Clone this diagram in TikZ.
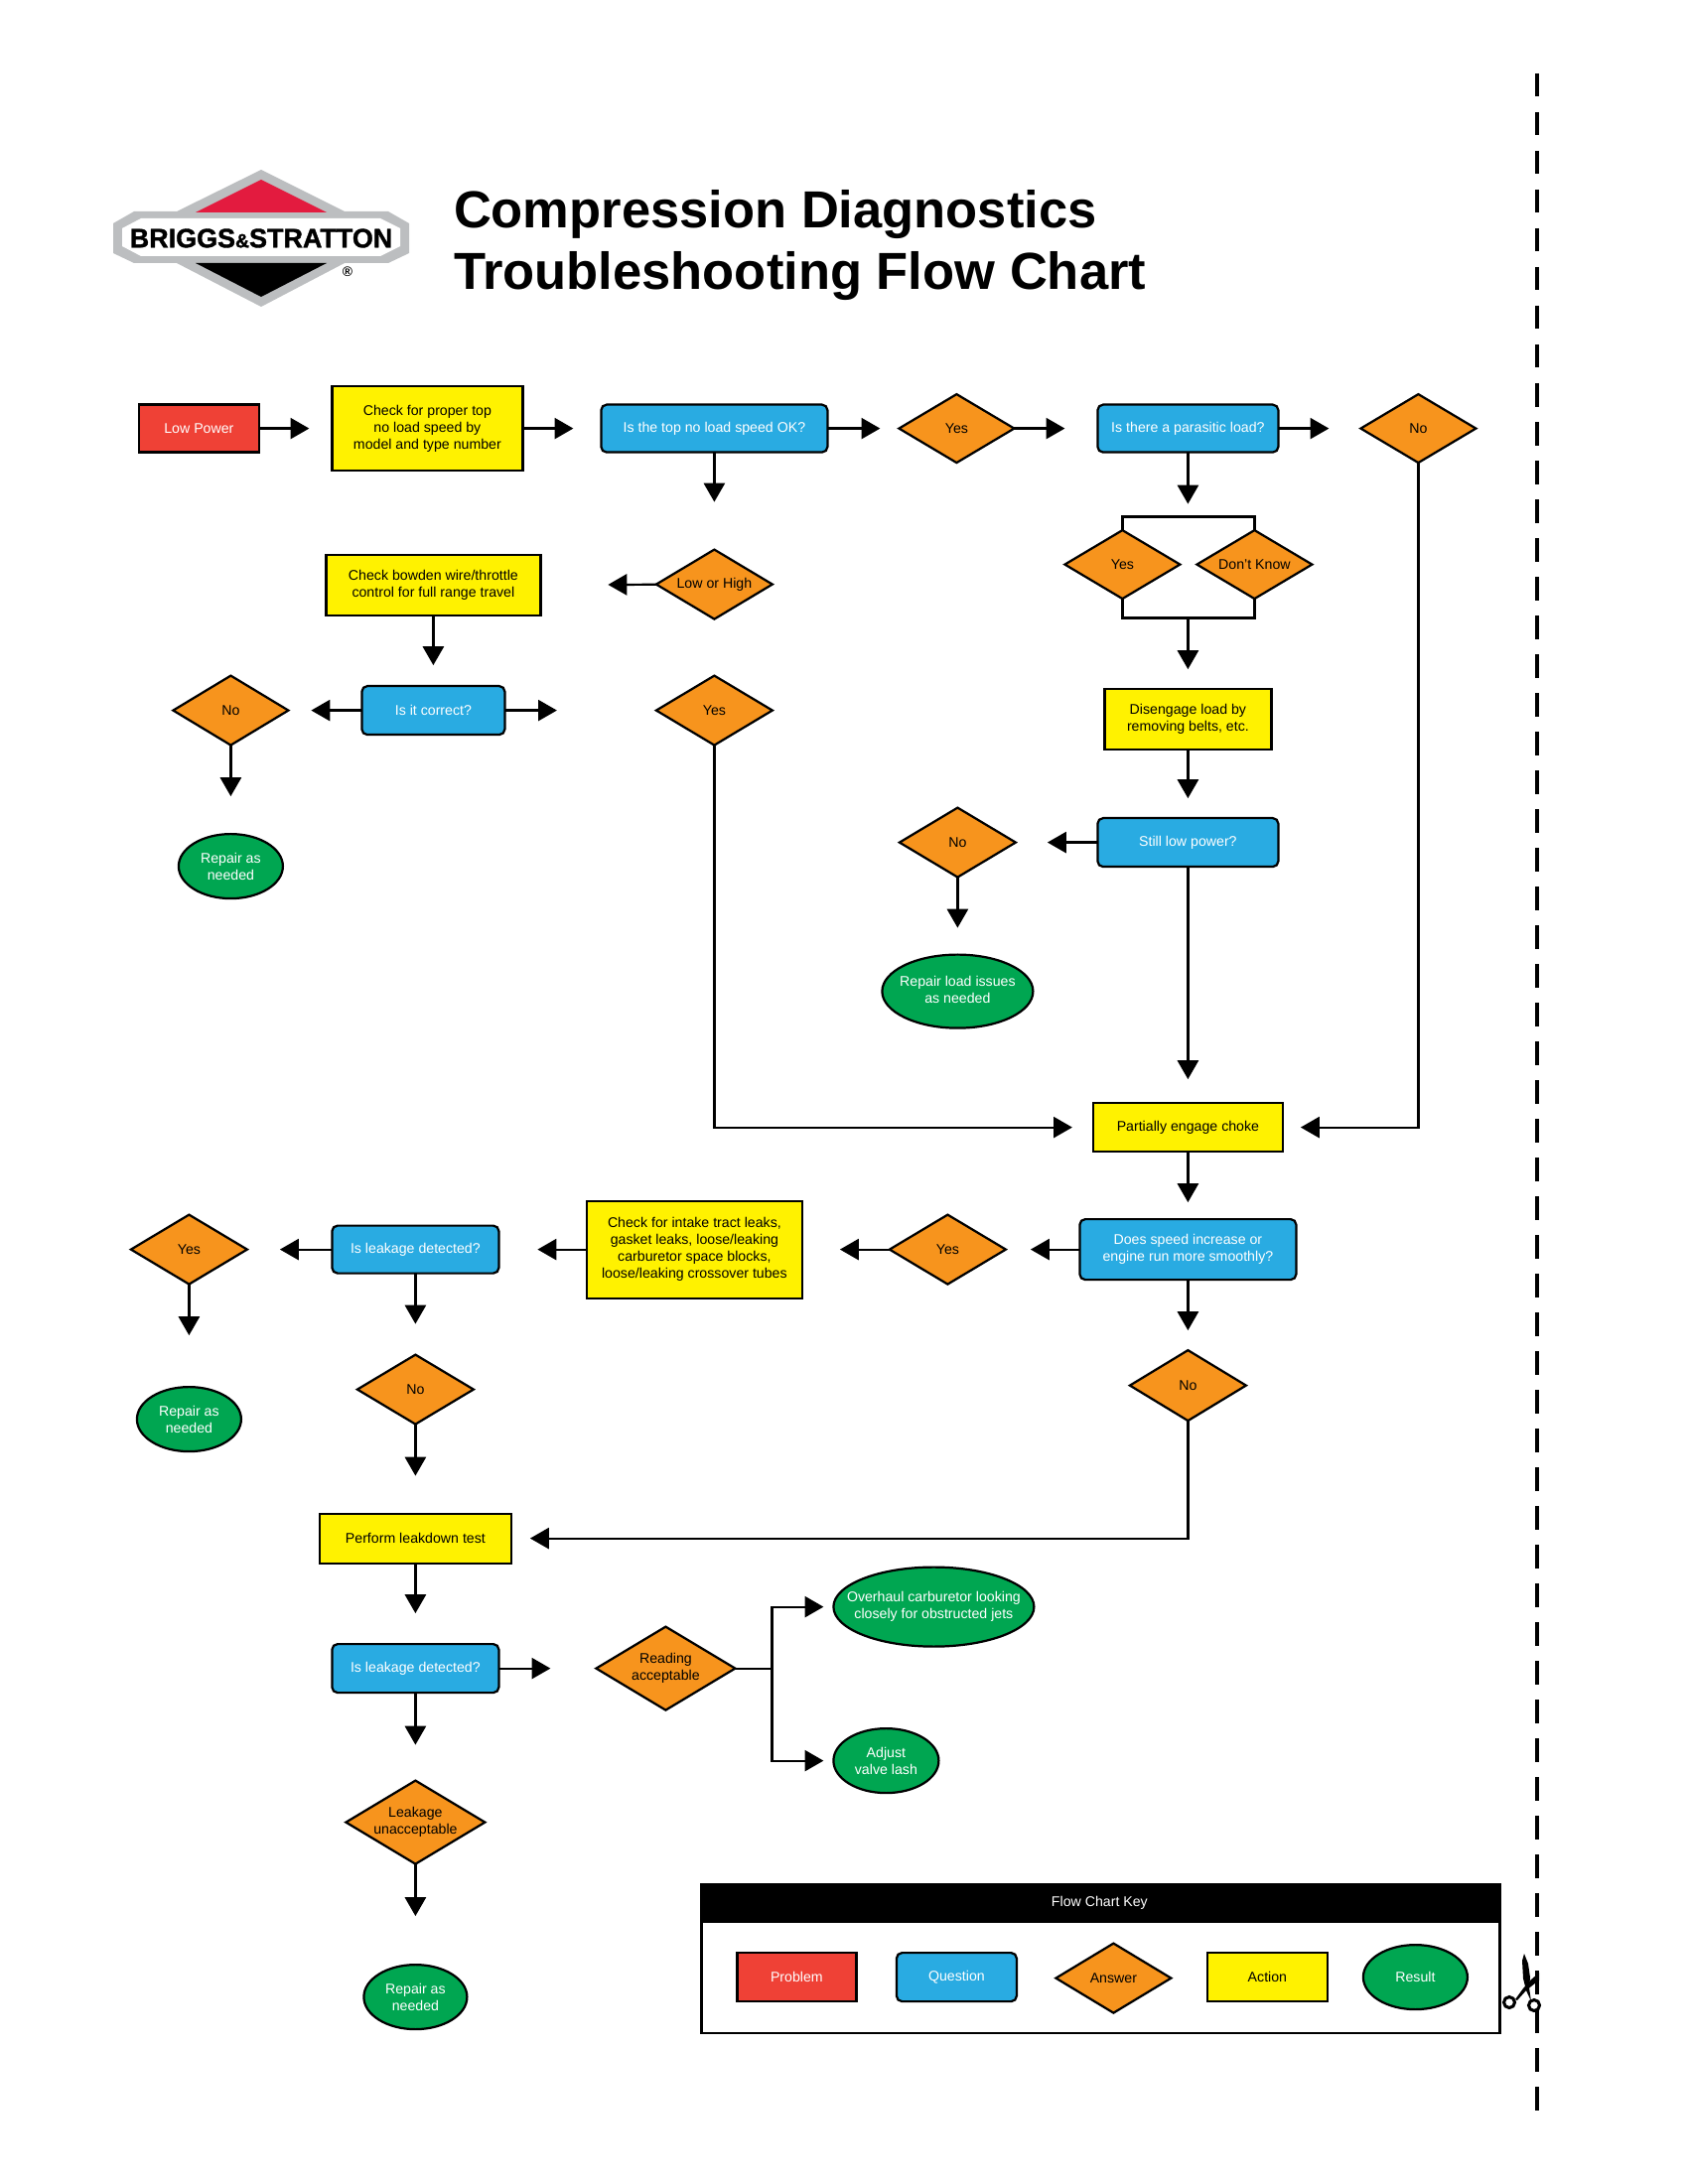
\documentclass[tikz,border=0pt]{standalone}
\usepackage{fontspec}
\setmainfont{Liberation Sans}
\newfontfamily\logofont[FakeBold=1.4]{Liberation Sans Bold}
\newcommand*{\slim}[1]{\makebox[0pt]{\raisebox{-1pt}{\begin{tabular}{@{}c@{}}#1\end{tabular}}}}
\definecolor{P}{HTML}{EF4136}
\definecolor{Q}{HTML}{29ABE2}
\definecolor{A}{HTML}{F7941D}
\definecolor{D}{HTML}{FFF200}
\definecolor{R}{HTML}{00A651}
\definecolor{G}{HTML}{BCBEC0}
\definecolor{L}{HTML}{E31B3F}
\usetikzlibrary{arrows.meta}
\usetikzlibrary{shapes.geometric}
\tikzstyle{base}=[x=0.36pt, y=-0.36pt, inner sep=0pt, outer sep=0pt, line width=0.8pt, font=\fontsize{5.1}{6.1}\selectfont, align=center]
\tikzstyle{problem}=[draw=black, fill=P, text=white, rectangle]
\tikzstyle{question}=[draw=black, fill=Q, text=white, rectangle, rounded corners=2pt]
\tikzstyle{answer}=[draw=black, fill=A, text=black, diamond, aspect=1.7]
\tikzstyle{action}=[draw=black, fill=D, text=black, rectangle]
\tikzstyle{result}=[draw=black, fill=R, text=white, ellipse]
\tikzset{
    size/.style 2 args={minimum width=#1*0.36pt, minimum height=#2*0.36pt},
    flow/.style={draw=black, -{Triangle[length=6.8pt, width=7.6pt]}},
    gap/.style={shorten >=#1*0.36pt}
}

\begin{document}
\begin{tikzpicture}[base]
    \path [use as bounding box] (0,0) rectangle (1700,2200);
    % logo
    \fill [G] (263,171) -- (347,213) -- (391,213) -- (412,225) -- (412,255) -- (391,265) -- (347,265) -- (263,309) -- (178,265) -- (135,265) -- (114,255) -- (114,225) -- (135,213) -- (178,213) -- cycle;
    \fill [L] (263,181) -- (329,214) -- (197,214) -- cycle;
    \fill [black] (197,265) -- (329,265) -- (263,299) -- cycle;
    \fill [white] (142,220) -- (383,220) -- (403,230) -- (403,248) -- (383,258) -- (142,258) -- (123,248) -- (123,230) -- cycle;
    \node [font=\fontsize{9.7}{10}\logofont] (brand) at (263,240) {BRIGGS{\fontsize{7}{8}\selectfont\&}STRATTON};
    \node [font=\fontsize{5}{6}\bfseries] (regmark) at (350,274) {®};
    % title
    \node [anchor=west, align=left, font=\fontsize{18.9}{22.6}\bfseries] (title) at (457,247) {Compression Diagnostics\\Troubleshooting Flow Chart};
    \begin{scope}[shift={(0.4,0.6)}]
    % top row
    \node [problem, size={121}{48}] (low) at (200,431) {Low Power};
    \node [action, size={192}{85}] (checktop) at (430,431) {Check for proper top\\no load speed by\\model and type number};
    \node [question, size={228}{48}] (topok) at (719,431) {Is the top no load speed OK?};
    \node [answer, size={116}{69}] (yesa) at (963,431) {Yes};
    \node [question, size={182}{48}] (parasitic) at (1196,431) {Is there a parasitic load?};
    \node [answer, size={116}{69}] (noa) at (1428,431) {No};
    % left branch
    \node [answer, size={117}{70}] (lowhigh) at (719,588) {Low or High};
    \node [action, size={216}{61}] (bowden) at (436,589) {Check bowden wire/throttle\\control for full range travel};
    \node [question, size={144}{49}] (correct) at (436,715) {Is it correct?};
    \node [answer, size={116}{70}] (nob) at (232,715) {No};
    \node [answer, size={117}{70}] (yesb) at (719,715) {Yes};
    \node [result, size={105}{65}] (repaira) at (232,872) {Repair as\\needed};
    % parasitic branch
    \coordinate (brtop) at (1196,520);
    \coordinate (brbot) at (1196,622);
    \node [answer, size={116}{69}] (yesc) at (1130,568) {Yes};
    \node [answer, size={116}{69}] (dontknow) at (1263,568) {Don't Know};
    \node [action, size={168}{61}] (disengage) at (1196,724) {Disengage load by\\removing belts, etc.};
    \node [question, size={182}{49}] (still) at (1196,848) {Still low power?};
    \node [answer, size={117}{70}] (noc) at (964,848) {No};
    \node [result, size={152}{74}] (repairload) at (964,998) {\slim{Repair load issues\\as needed}};
    % choke
    \node [action, size={191}{49}] (choke) at (1196,1135) {Partially engage choke};
    \node [question, size={218}{61}] (speed) at (1196,1258) {Does speed increase or\\engine run more smoothly?};
    \node [answer, size={117}{70}] (yesd) at (954,1258) {Yes};
    \node [action, size={217}{98}] (intake) at (699,1258) {Check for intake tract leaks,\\gasket leaks, loose/leaking\\carburetor space blocks,\\loose/leaking crossover tubes};
    \node [question, size={168}{48}] (leaka) at (418,1258) {Is leakage detected?};
    \node [answer, size={117}{70}] (yese) at (190,1258) {Yes};
    \node [result, size={105}{65}] (repairb) at (190,1429) {Repair as\\needed};
    \node [answer, size={117}{70}] (nod) at (418,1399) {No};
    \node [answer, size={117}{71}] (noe) at (1196,1395) {No};
    % leakdown
    \node [action, size={193}{50}] (leakdown) at (418,1549) {Perform leakdown test};
    \node [question, size={168}{49}] (leakb) at (418,1680) {Is leakage detected?};
    \node [answer, size={140}{84}] (reading) at (670,1680) {Reading\\acceptable};
    \node [answer, size={140}{84}] (leakage) at (418,1835) {Leakage\\unacceptable};
    \node [result, size={104}{65}] (repairc) at (418,2011) {Repair as\\needed};
    \node [result, size={202}{80}] (overhaul) at (940,1618) {\slim{Overhaul carburetor looking\\closely for obstructed jets}};
    \node [result, size={106}{65}] (lash) at (892,1773) {Adjust\\valve lash};
    \coordinate (fork) at (777,1680);
    % connectors
    \draw [flow, gap=23] (low) -- (checktop);
    \draw [flow, gap=28] (checktop) -- (topok);
    \draw [flow, gap=19] (topok) -- (yesa);
    \draw [flow, gap=33] (yesa) -- (parasitic);
    \draw [flow, gap=32] (parasitic) -- (noa);
    \draw [flow, gap=48] (topok.south) -- (lowhigh.north);
    \draw [flow, gap=68] (lowhigh) -- (bowden);
    \draw [flow, gap=21] (bowden.south) -- (correct.north);
    \draw [flow, gap=23] (correct) -- (nob);
    \draw [flow, gap=100] (correct) -- (yesb);
    \draw [flow, gap=38] (nob) -- (repaira);
    \draw [flow, gap=21] (yesb.south) |- (choke.west);
    \draw [flow, gap=18] (noa.south) |- (choke.east);
    \draw [flow, gap=13] (parasitic.south) -- (brtop);
    \draw (yesc.north) |- (brtop) -| (dontknow.north);
    \draw (yesc.south) |- (brbot) -| (dontknow.south);
    \draw [flow, gap=20] (brbot) -- (disengage.north);
    \draw [flow, gap=20] (disengage) -- (still);
    \draw [flow, gap=32] (still) -- (noc);
    \draw [flow, gap=27] (noc) -- (repairload);
    \draw [flow, gap=24] (still) -- (choke);
    \draw [flow, gap=17] (choke) -- (speed);
    \draw [flow, gap=25] (speed) -- (yesd);
    \draw [flow, gap=38] (yesd) -- (intake);
    \draw [flow, gap=39] (intake) -- (leaka);
    \draw [flow, gap=33] (leaka) -- (yese);
    \draw [flow, gap=52] (yese) -- (repairb);
    \draw [flow, gap=31] (leaka) -- (nod);
    \draw [flow, gap=38] (nod) -- (leakdown);
    \draw [flow, gap=20] (speed) -- (noe);
    \draw [flow, gap=19] (noe.south) |- (leakdown.east);
    \draw [flow, gap=31] (leakdown) -- (leakb);
    \draw [flow, gap=46] (leakb) -- (reading);
    \draw [flow, gap=36] (leakb) -- (leakage);
    \draw [flow, gap=49] (leakage) -- (repairc);
    \draw (reading.east) -- (fork);
    \draw [flow, gap=10] (fork) |- (overhaul.west);
    \draw [flow, gap=10] (fork) |- (lash.west);
    % key
    \draw [black] (706,1897) rectangle (1510,2047);
    \fill [black] (706,1897) rectangle (1510,1936);
    \node [text=white] (keytitle) at (1107,1916) {Flow Chart Key};
    \node [problem, size={120}{49}] (keyp) at (802,1991) {Problem};
    \node [question, size={121}{49}] (keyq) at (963,1991) {Question};
    \node [answer, size={116}{70}] (keya) at (1121,1992) {Answer};
    \node [action, size={121}{49}] (keyd) at (1276,1991) {Action};
    \node [result, size={105}{65}] (keyr) at (1425,1991) {Result};
    \end{scope}
    % cut line
    \draw [line width=1.44pt, dash pattern=on 8.46pt off 5.58pt] (1548,74) -- (1548,2126);
    % scissors
    \begin{scope}[shift={(2,0)}]
    \draw [line width=1.1pt] (1518,2017) circle [radius=5.5];
    \draw [line width=1.1pt] (1543,2020) circle [radius=5.5];
    \fill [black] (1533,1968) -- (1531,1975) -- (1532,1993) -- (1535,2005) -- (1540,2016) -- (1538,2002) -- (1539,1992) -- (1537,1978) -- cycle;
    \fill [black] (1548,1987) -- (1539,1995) -- (1532,2003) -- (1524,2014) -- (1526,2015) -- (1535,2005) -- (1545,1997) -- (1548,1995) -- cycle;
    \end{scope}
\end{tikzpicture}
\end{document}
